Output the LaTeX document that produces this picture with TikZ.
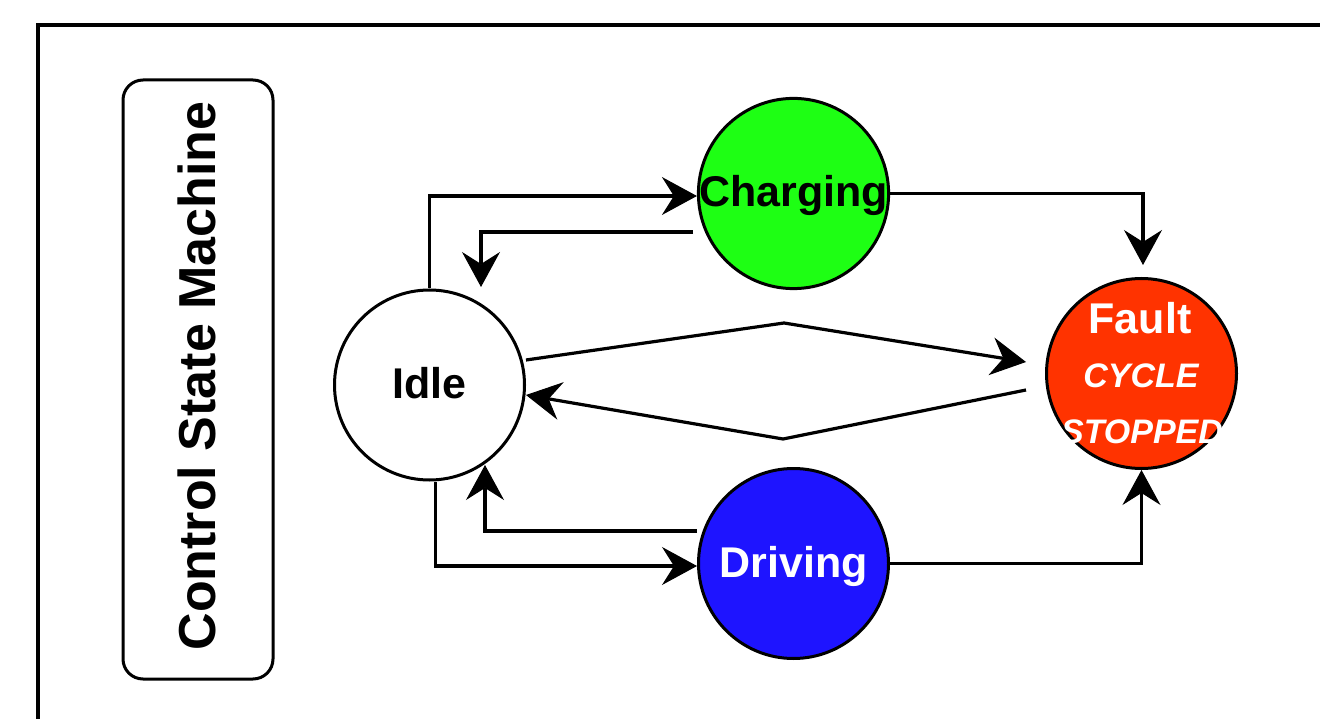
\documentclass[tikz,border=0pt]{standalone}
\usepackage{fontspec}
\setmainfont{Liberation Sans}
\usetikzlibrary{arrows.meta,calc}
\definecolor{chggreen}{RGB}{30,255,20}
\definecolor{drvblue}{RGB}{30,20,255}
\definecolor{faultred}{RGB}{255,51,0}
\begin{document}
\begin{tikzpicture}[x=1pt,y=-1pt,
  state/.style={circle,draw=black,line width=3pt,minimum size=190pt,inner sep=0pt,
    font=\fontsize{43pt}{50pt}\selectfont\bfseries,text height=27pt,text depth=0pt},
  edge/.style={line width=3.2pt,-{Stealth[length=35pt,width=38pt,inset=12pt,line width=1pt]}},
  ftext/.style={anchor=base,text=white,inner sep=0pt},
  frame/.style={line width=3.5pt},
  lblbox/.style={draw=black,line width=3pt,rounded corners=20pt,minimum width=150pt,minimum height=599pt,inner sep=0pt}]
\useasboundingbox (0,0) rectangle (1320,719);
\clip (0,0) rectangle (1320,719);
\fill[white] (0,0) rectangle (1320,719);
% outer frame
\draw[frame] (1340,25) -- (38,25) -- (38,740);
% label box
\node[lblbox] (lbl) at (198,379.5) {};
\node[rotate=90,anchor=base,inner sep=0pt,font=\fontsize{52pt}{60pt}\selectfont\bfseries] (lbltext) at (215,376) {Control State Machine};
% states
\node[state,fill=white] (idle) at (429.5,385) {Idle};
\node[state,fill=chggreen] (chg) at (793.5,193.5) {Charging};
\node[state,fill=drvblue,text=white] (drv) at (793.5,563.5) {Driving};
\node[state,fill=faultred] (fault) at (1141.5,373.5) {};
\node[ftext,font=\fontsize{43pt}{50pt}\selectfont\bfseries] (ft1) at (1140,334) {Fault};
\node[ftext,font=\fontsize{34pt}{40pt}\selectfont\bfseries\itshape] (ft2) at (1141,387) {CYCLE};
\node[ftext,font=\fontsize{34pt}{40pt}\selectfont\bfseries\itshape] (ft3) at (1142,443) {STOPPED};
% coordinates for free ends
\coordinate (c2i) at (693,232);
\coordinate (c2it) at (481,287);
\coordinate (d2i) at (697,531);
\coordinate (d2it) at (485,465);
\coordinate (i2f) at (526,360);
\coordinate (i2fm) at (784,323);
\coordinate (i2ft) at (1026,362);
\coordinate (f2i) at (1026,390);
\coordinate (f2im) at (783,439);
\coordinate (f2it) at (526,395);
\coordinate (c2ft) at (1143,265);
% connectors
\draw[edge] (idle.north) |- ($(chg.west)+(0,2.5)$);
\draw[edge] (c2i) -| (c2it);
\draw[edge] ($(idle.south)+(6,0)$) |- ($(drv.west)+(0,2.5)$);
\draw[edge] (d2i) -| (d2it);
\draw[edge] (i2f) -- (i2fm) -- (i2ft);
\draw[edge] (f2i) -- (f2im) -- (f2it);
\draw[edge] (chg.east) -| (c2ft);
\draw[edge] (drv.east) -| (fault.south);
\end{tikzpicture}
\end{document}
